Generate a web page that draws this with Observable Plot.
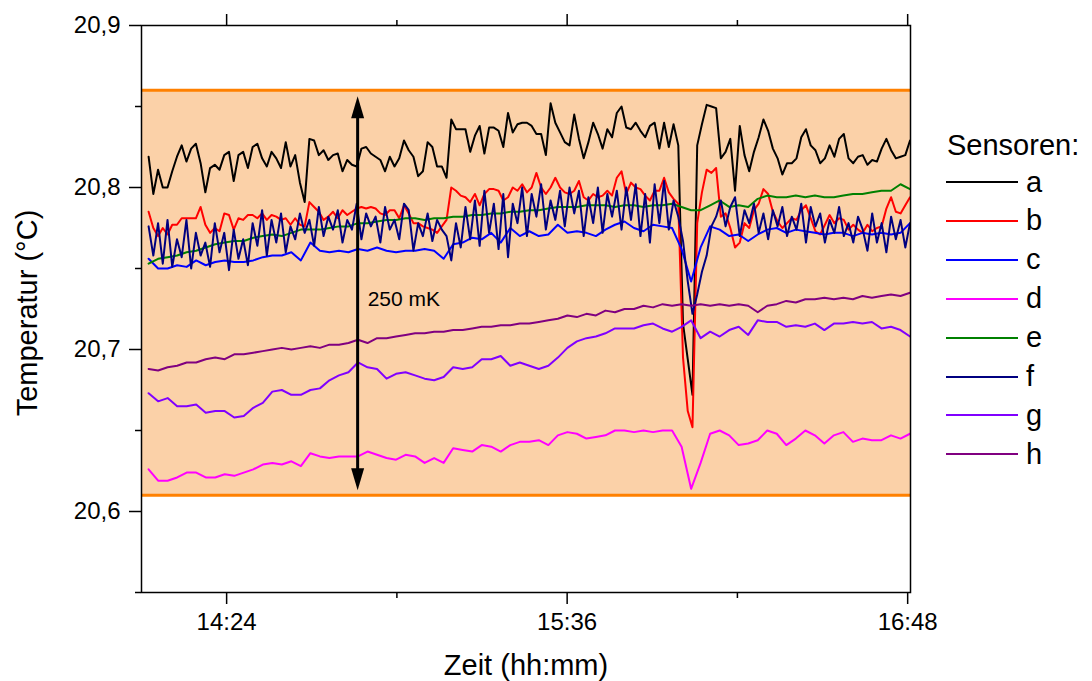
<!DOCTYPE html>
<html lang="de">
<head>
<meta charset="utf-8">
<title>Sensoren – Temperaturverlauf</title>
<script src="https://cdn.jsdelivr.net/npm/d3@7"></script>
<script src="https://cdn.jsdelivr.net/npm/@observablehq/plot@0.6"></script>
<style>
  html, body { margin: 0; padding: 0; background: #fff; }
  body { font-family: "Liberation Sans", Arial, Helvetica, sans-serif; color: #000; }
  #chart { position: relative; width: 1092px; height: 681px; }
  #legend { position: absolute; left: 0; top: 0; width: 1092px; height: 681px; pointer-events: none; }
  .lg-title, .lg-label { position: absolute; font-size: 29px; line-height: 29px; white-space: nowrap; }
  .lg-swatch { position: absolute; width: 72px; height: 2px; }
</style>
</head>
<body>
<div id="chart"><div id="legend"></div></div>
<script>
// Sensor names and their line colours
const sensorNames = ["a", "b", "c", "d", "e", "f", "g", "h"];
const sensorColors = ["#000000", "#ff0000", "#0000ff", "#ff00ff", "#008000", "#000080", "#8000ff", "#800080"];

// Logged readings in mK above 20 °C, evenly spaced between the first and last sample.
// a, b and f were logged once a minute, the others every two minutes.
const sensorA = [
  819,796,811,800,800,810,819,826,816,824,
  827,815,797,812,814,811,820,822,804,820,
  822,812,825,827,818,813,822,818,812,828,
  813,820,803,791,830,829,820,823,817,820,
  821,810,817,814,813,824,825,821,819,817,
  810,819,813,818,829,823,819,807,810,828,
  825,813,813,806,842,836,836,836,822,832,
  838,821,837,837,835,825,846,834,839,840,
  840,838,833,833,820,852,840,834,828,826,
  845,830,818,828,840,833,824,836,831,846,
  850,837,836,840,835,831,838,840,824,840,
  825,839,826,716,694,672,826,839,851,850,
  849,818,822,830,798,838,820,810,822,831,
  842,835,824,818,808,815,815,818,831,836,
  826,823,815,818,826,819,830,833,818,815,
  819,820,814,817,816,824,830,823,818,819,
  820,829
];
const sensorB = [
  785,775,770,775,771,777,777,781,781,781,
  781,788,777,772,775,773,784,783,774,781,
  780,783,783,781,784,780,783,782,780,781,
  777,781,777,776,791,788,785,780,782,785,
  781,786,783,785,787,788,787,788,787,784,
  783,786,786,781,789,784,778,778,776,775,
  774,772,776,780,800,798,795,794,791,796,
  789,796,799,799,798,792,794,800,798,802,
  797,800,809,800,796,800,806,800,797,796,
  798,804,794,792,796,794,795,798,795,806,
  810,796,803,800,799,795,792,798,798,806,
  797,793,790,695,662,652,778,797,811,809,
  812,782,784,775,763,766,778,775,786,790,
  799,796,785,779,775,778,781,780,786,789,
  781,773,771,777,783,778,781,780,774,777,
  774,772,777,773,775,776,787,794,785,784,
  789,794
];
const sensorC = [
  756,750,750,752,751,755,752,754,755,754,
  754,755,757,758,758,760,755,766,761,760,
  761,760,762,761,763,761,760,761,761,762,
  761,756,765,766,769,768,772,766,775,770,
  773,770,771,777,772,773,772,770,774,777,
  779,775,773,777,776,775,762,742,763,776,
  774,770,771,767,771,774,775,772,774,773,
  772,771,772,772,770,772,771,772,771,772,
  778
];
const sensorD = [
  626,619,619,621,624,624,621,621,623,622,
  624,626,629,630,629,631,628,636,634,633,
  634,634,634,637,635,633,632,635,634,630,
  633,630,639,638,637,641,640,637,641,643,
  643,644,641,647,649,648,645,646,647,650,
  650,649,650,649,650,650,640,614,630,648,
  650,647,641,642,644,650,648,641,645,650,
  647,642,647,649,643,645,644,644,647,645,
  648
];
const sensorE = [
  753,756,757,758,760,761,763,765,766,767,
  767,769,770,771,770,772,774,774,774,775,
  776,776,778,778,779,780,780,781,781,780,
  781,781,782,782,783,783,784,784,785,785,
  786,786,787,788,788,788,789,789,789,788,
  789,789,788,789,789,790,788,786,786,789,
  792,788,789,788,793,795,794,794,795,794,
  795,794,794,795,796,796,797,798,798,802,
  799
];
const sensorF = [
  776,758,778,753,780,751,768,757,780,750,
  772,758,766,751,778,760,772,749,774,756,
  768,752,778,764,786,758,780,766,784,760,
  776,768,784,772,780,764,788,770,782,774,
  786,766,780,774,790,768,784,776,782,766,
  788,774,780,768,790,786,761,778,770,784,
  767,780,774,770,755,778,763,788,768,792,
  764,798,772,790,762,796,757,790,778,800,
  770,796,782,802,774,792,780,798,776,800,
  784,798,770,794,778,800,772,796,782,798,
  774,800,780,802,770,796,766,802,778,804,
  774,792,782,767,742,722,734,748,758,776,
  782,792,776,788,794,770,786,778,790,772,
  784,768,786,776,788,770,782,774,790,766,
  788,776,784,766,780,772,788,770,778,766,
  782,774,761,784,766,778,760,782,768,780,
  763,778
];
const sensorG = [
  673,668,670,665,665,666,661,662,662,658,
  659,664,667,674,675,672,672,675,676,681,
  684,686,692,689,688,682,685,686,684,682,
  681,683,689,688,689,694,694,696,690,692,
  690,688,690,695,701,705,707,708,710,713,
  713,713,715,716,713,711,714,718,707,711,
  708,712,714,709,718,717,717,714,715,714,
  716,712,716,716,717,716,717,713,714,712,
  708
];
const sensorH = [
  688,687,689,690,692,692,694,695,694,697,
  697,698,699,700,701,700,701,702,701,703,
  703,704,706,704,707,707,708,709,710,710,
  711,711,712,712,713,714,714,715,715,716,
  716,717,718,719,721,720,722,721,724,723,
  725,725,727,726,728,727,728,727,728,727,
  728,727,728,727,723,727,728,730,729,731,
  731,732,731,732,731,733,732,733,734,733,
  735
];

// Time span of the logs, minutes after midnight (14:07:30 – 16:48:30)
const firstSample = 847.5;
const lastSample = 1008.5;

// Tolerance band and its annotation
const bandLow = 20.61;
const bandHigh = 20.86;
const bandLabel = "250 mK";
const arrowTime = 891.7;

// Axis ticks (time in minutes after midnight)
const timeTicks = [864, 936, 1008];
const timeMinorTicks = [900, 972];
const tempTicks = [20.6, 20.7, 20.8, 20.9];
const tempMinorTicks = [20.55, 20.65, 20.75, 20.85];

const readings = [sensorA, sensorB, sensorC, sensorD, sensorE, sensorF, sensorG, sensorH];
const rows = readings.flatMap((mk, s) => mk.map((v, i) => ({
  sensor: sensorNames[s],
  t: firstSample + i * (lastSample - firstSample) / (mk.length - 1),
  temp: 20 + v / 1000
})));

const fmtTemp = d => d.toFixed(1).replace(".", ",");
const fmtTime = m => `${Math.floor(m / 60)}:${String(Math.round(m % 60)).padStart(2, "0")}`;
const blank = () => "";

// Filled triangular arrow head, tip at the vector's end
const arrowHead = {
  draw(context, l, r) {
    context.moveTo(0, -l);
    context.lineTo(r, 0);
    context.lineTo(-r, 0);
    context.closePath();
  }
};

const chart = Plot.plot({
  width: 1092,
  height: 681,
  marginLeft: 141,
  marginRight: 182,
  marginTop: 25,
  marginBottom: 89,
  style: {
    fontFamily: "'Liberation Sans', Arial, Helvetica, sans-serif",
    fontSize: "24px",
    color: "#000",
    background: "#fff"
  },
  x: { domain: [846, 1008.6] },
  y: { domain: [20.55, 20.9] },
  color: { domain: sensorNames, range: sensorColors },
  marks: [
    Plot.rect([{ low: bandLow, high: bandHigh }], { y1: "low", y2: "high", fill: "#fbd1a8" }),
    Plot.ruleY([bandLow, bandHigh], { stroke: "#ff8000", strokeWidth: 3 }),
    Plot.line(rows, { x: "t", y: "temp", z: "sensor", stroke: "sensor", strokeWidth: 2, strokeLinejoin: "round" }),

    // 250 mK double arrow
    Plot.ruleX([{ t: arrowTime }], { x: "t", y1: bandHigh, y2: bandLow, stroke: "#000", strokeWidth: 3, insetTop: 14, insetBottom: 14 }),
    Plot.vector([{ t: arrowTime }], { x: "t", y: bandHigh, length: 22, r: 6.5, shape: arrowHead, anchor: "end", fill: "#000", stroke: "none", dy: 6 }),
    Plot.vector([{ t: arrowTime }], { x: "t", y: bandLow, rotate: 180, length: 22, r: 6.5, shape: arrowHead, anchor: "end", fill: "#000", stroke: "none", dy: -5 }),
    Plot.text([bandLabel], { x: arrowTime, y: 20.731, dx: 10, textAnchor: "start", fontSize: 21 }),

    // axes
    Plot.axisX(timeTicks, { anchor: "bottom", tickSize: 12, tickPadding: 8, tickFormat: fmtTime, strokeWidth: 1.5, label: null }),
    Plot.axisX(timeMinorTicks, { anchor: "bottom", tickSize: 6, tickFormat: blank, strokeWidth: 1.5, label: null }),
    Plot.axisX(timeTicks, { anchor: "top", tickSize: 12, tickFormat: blank, strokeWidth: 1.5, label: null }),
    Plot.axisX(timeMinorTicks, { anchor: "top", tickSize: 6, tickFormat: blank, strokeWidth: 1.5, label: null }),
    Plot.axisY(tempTicks, { anchor: "left", tickSize: 12, tickPadding: 9, tickFormat: fmtTemp, strokeWidth: 1.5, label: null }),
    Plot.axisY(tempMinorTicks, { anchor: "left", tickSize: 6, tickFormat: blank, strokeWidth: 1.5, label: null }),
    Plot.frame({ stroke: "#000", strokeWidth: 1.5 }),

    // axis titles
    Plot.text(["Zeit (hh:mm)"], { frameAnchor: "bottom", dy: 82, fontSize: 29 }),
    Plot.text(["Temperatur (°C)"], { frameAnchor: "left", textAnchor: "middle", lineAnchor: "middle", rotate: -90, dx: -114, dy: 4, fontSize: 29 })
  ]
});

const host = document.getElementById("chart");
host.insertBefore(chart, host.firstChild);

// Legend to the right of the plot
const legend = document.getElementById("legend");
const title = document.createElement("div");
title.className = "lg-title";
title.textContent = "Sensoren:";
title.style.left = "947px";
title.style.top = "131px";
legend.appendChild(title);

sensorNames.forEach((name, i) => {
  const baseline = 192 + i * 38.9;
  const swatch = document.createElement("div");
  swatch.className = "lg-swatch";
  swatch.style.background = sensorColors[i];
  swatch.style.left = "946px";
  swatch.style.top = `${baseline - 11}px`;
  legend.appendChild(swatch);
  const label = document.createElement("div");
  label.className = "lg-label";
  label.textContent = name;
  label.style.left = "1026px";
  label.style.top = `${baseline - 24.5}px`;
  legend.appendChild(label);
});
</script>
</body>
</html>
